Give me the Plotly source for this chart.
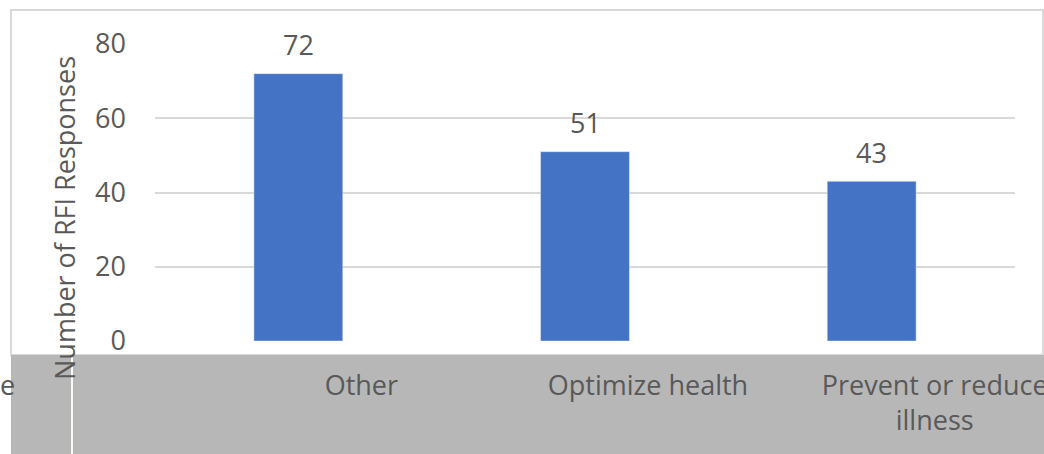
import plotly.graph_objects as go

categories = ['Other', 'Optimize health', 'Prevent or reduce illness']
tick_labels = ['Other', 'Optimize health', 'Prevent or reduce<br>illness']
responses = [72, 51, 43]
y_ticks = [0, 20, 40, 60, 80]

TEXT = '#595959'
FONT = 'Open Sans, Noto Sans, sans-serif'

# plot area in pixels: left 155, right 1015, top 44, bottom 341
L, R, T, B = 155, 1015, 44, 341


def px_x(px):
    return (px - L) / (R - L)


def px_y(py):
    return (B - py) / (B - T)


fig = go.Figure()
fig.add_trace(go.Bar(
    x=categories,
    y=responses,
    width=0.31,
    marker_color='#4472C4',
    hoverinfo='skip'
))
# invisible copy so the shifted category axis gets drawn
fig.add_trace(go.Bar(
    x=categories,
    y=responses,
    xaxis='x2',
    opacity=0,
    hoverinfo='skip',
    showlegend=False
))

for cat, val in zip(categories, responses):
    fig.add_annotation(
        x=cat, y=val, xref='x', yref='y',
        text=str(val), showarrow=False,
        yanchor='middle', yshift=29,
        font=dict(size=27, color=TEXT, family=FONT)
    )

# band below the chart
fig.add_shape(type='rect', xref='paper', yref='paper',
              x0=px_x(11), x1=px_x(1043), y0=px_y(355), y1=px_y(10),
              line=dict(color='#d9d9d9', width=2), fillcolor='white', layer='below')
fig.add_shape(type='rect', xref='paper', yref='paper',
              x0=px_x(11), x1=px_x(1060), y0=px_y(470), y1=px_y(355),
              line=dict(width=0), fillcolor='#b7b7b7', layer='below')
fig.add_shape(type='line', xref='paper', yref='paper',
              x0=px_x(72), x1=px_x(72), y0=px_y(470), y1=px_y(356),
              line=dict(color='#fbfaf2', width=2), layer='below')

fig.add_annotation(
    x=px_x(64), y=px_y(218), xref='paper', yref='paper',
    xanchor='center', yanchor='middle',
    text='Number of RFI Responses', textangle=-90, showarrow=False,
    font=dict(size=27, color=TEXT, family=FONT)
)
fig.add_annotation(
    x=px_x(17), y=px_y(384), xref='paper', yref='paper',
    xanchor='right', yanchor='middle', text='e', showarrow=False,
    font=dict(size=27, color=TEXT, family=FONT)
)

shift = 63 / ((R - L) / 3)
fig.update_layout(
    width=1044,
    height=454,
    margin=dict(l=L, r=1044 - R, t=T, b=454 - B, autoexpand=False),
    paper_bgcolor='white',
    plot_bgcolor='white',
    showlegend=False,
    font=dict(family=FONT, color=TEXT),
    xaxis=dict(
        range=[-0.5, 2.5],
        showticklabels=False,
        showgrid=False,
        zeroline=False,
        showline=False,
        automargin=False
    ),
    xaxis2=dict(
        overlaying='x',
        anchor='y',
        side='bottom',
        range=[-0.5 - shift, 2.5 - shift],
        tickvals=categories,
        ticktext=tick_labels,
        showgrid=False,
        zeroline=False,
        showline=False,
        automargin=False,
        ticklabelstandoff=26,
        tickfont=dict(size=27, color=TEXT, family=FONT)
    ),
    yaxis=dict(
        range=[0, 80],
        tickvals=y_ticks,
        showgrid=True,
        gridcolor='#d9d9d9',
        gridwidth=2,
        zeroline=False,
        automargin=False,
        ticklabelstandoff=28,
        tickfont=dict(size=27, color=TEXT, family=FONT)
    )
)

fig.write_html('out.html', config={'displayModeBar': False},
               post_script="document.body.style.margin='0';")
